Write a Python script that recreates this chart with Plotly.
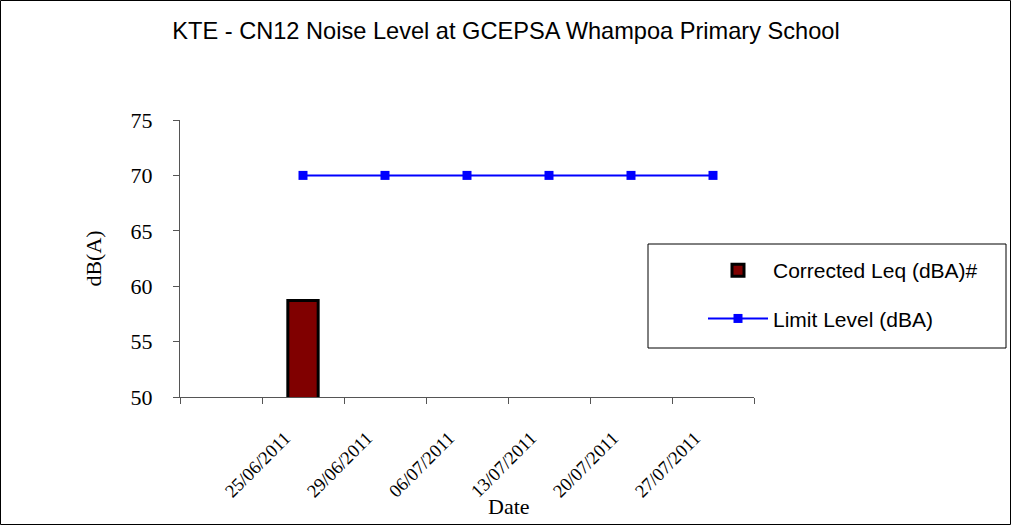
import plotly.graph_objects as go

categories = [" ", "25/06/2011", "29/06/2011", "06/07/2011", "13/07/2011", "20/07/2011", "27/07/2011"]
corrected_leq = [None, 58.7, None, None, None, None, None]
limit_level = [None, 70, 70, 70, 70, 70, 70]
y_ticks = [50, 55, 60, 65, 70, 75]

W, H = 1011, 525
L, R, T, B = 180, 257, 120, 128
pw, ph = W - L - R, H - T - B

fig = go.Figure()
fig.add_trace(go.Bar(
    x=categories, y=corrected_leq, name="Corrected Leq (dBA)#",
    legendgroup="a",
    marker=dict(color="#800000", line=dict(color="black", width=3)),
    width=0.37,
))
fig.add_trace(go.Scatter(
    x=categories, y=limit_level, name="Limit Level (dBA)",
    legendgroup="b",
    mode="lines+markers",
    line=dict(color="#0000FF", width=2),
    marker=dict(symbol="square", size=9, color="#0000FF"),
))

serif = "Liberation Serif, Times New Roman"
sans = "Liberation Sans, Arial"

fig.update_layout(
    width=W, height=H,
    margin=dict(l=L, r=R, t=T, b=B, autoexpand=False),
    plot_bgcolor="white", paper_bgcolor="white",
    title=dict(text="KTE - CN12 Noise Level at GCEPSA Whampoa Primary School",
               x=506 / W, xanchor="center", y=1 - 31 / H, yanchor="middle",
               font=dict(family=sans, size=23.6, color="black")),
    showlegend=True,
    legend=dict(x=(703 - L) / pw, y=(H - B - 250) / ph, xanchor="left", yanchor="top",
                bgcolor="rgba(0,0,0,0)", borderwidth=0,
                font=dict(family=sans, size=21, color="black"),
                tracegroupgap=18, itemwidth=60),
    bargap=0.5,
    xaxis=dict(
        type="category", categoryorder="array", categoryarray=categories,
        range=[-0.5, len(categories) - 0.5],
        showline=True, linecolor="#555555", linewidth=1,
        ticks="outside", ticklen=6, tickcolor="#555555", tickson="boundaries",
        tickangle=-45, showgrid=False, zeroline=False,
        ticklabelstandoff=22, ticklabelshift=-18,
        tickfont=dict(family=serif, size=18.5, color="black"),
        automargin=False,
    ),
    yaxis=dict(
        range=[50, 75], tickvals=y_ticks,
        showline=True, linecolor="#555555", linewidth=1,
        ticks="outside", ticklen=6, tickcolor="#555555", ticklabelstandoff=16,
        showgrid=False, zeroline=False,
        tickfont=dict(family=serif, size=22, color="black"),
        title=dict(text="dB(A)", standoff=22,
                   font=dict(family=serif, size=22, color="black")),
        automargin=False,
    ),
    annotations=[
        dict(text="Date", xref="paper", yref="paper",
             x=(509 - L) / pw, y=(H - B - 506) / ph,
             xanchor="center", yanchor="middle", showarrow=False,
             font=dict(family=serif, size=22, color="black")),
    ],
    shapes=[
        dict(type="rect", xref="paper", yref="paper",
             x0=(648 - L) / pw, x1=(1006 - L) / pw,
             y0=(H - B - 348) / ph, y1=(H - B - 244) / ph,
             line=dict(color="black", width=1), fillcolor="white", layer="below"),
        dict(type="rect", xref="paper", yref="paper",
             x0=(0.5 - L) / pw, x1=(W - 0.5 - L) / pw,
             y0=(-B + 0.5) / ph, y1=(ph + T - 0.5) / ph,
             line=dict(color="black", width=1), fillcolor="rgba(0,0,0,0)", layer="below"),
    ],
)

fig.write_html("out.html", config={"displayModeBar": False},
               post_script="document.body.style.margin='0';")
